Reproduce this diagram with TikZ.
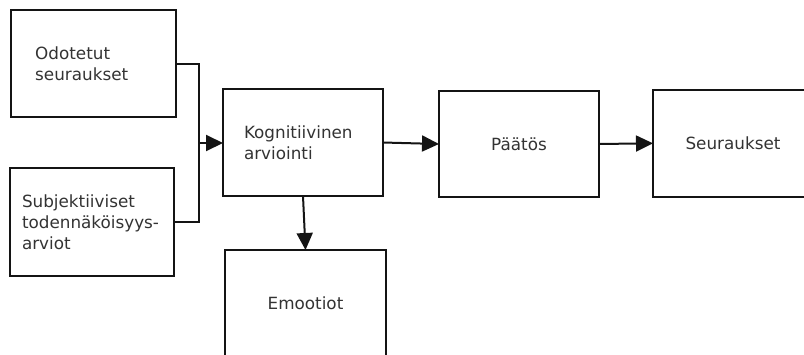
\documentclass[tikz,border=0pt]{standalone}
\usepackage{fontspec}
\setmainfont{DejaVu Sans}
\usetikzlibrary{arrows.meta}
\begin{document}
\begin{tikzpicture}[x=1pt,y=-1pt,
  box/.style={draw=black!92, line width=2pt, rectangle, inner sep=0pt, outer sep=0pt,
    font=\fontsize{16.8}{21}\selectfont, text=black!80},
  conn/.style={draw=black!92, line width=2pt},
  arr/.style={conn, -{Triangle[length=17pt,width=16pt]}}]
\useasboundingbox (0,0) rectangle (804,354);
\clip (0,0) rectangle (804,354);
\node[box, minimum width=165pt, minimum height=107pt, text width=116pt, align=left] (A) at (93.2,63.5)
  {\mbox{Odotetut}\\\mbox{seuraukset}};
\node[box, minimum width=164pt, minimum height=108pt, text width=140pt, align=left] (B) at (92,222)
  {\mbox{Subjektiiviset}\\\mbox{todennäköisyys-}\\\mbox{arviot}};
\node[box, minimum width=160pt, minimum height=107pt, text width=118pt, align=left] (K) at (303,142.5)
  {\mbox{Kognitiivinen}\\\mbox{arviointi}};
\node[box, minimum width=161pt, minimum height=107pt, align=center] (E) at (305.5,303.5) {Emootiot};
\node[box, minimum width=160pt, minimum height=106pt, align=center] (P) at (519,144) {Päätös};
\node[box, minimum width=160pt, minimum height=107pt, align=center] (S) at (733,143.3) {Seuraukset};
\coordinate (j) at (199,143);
\draw[conn] (A.east) -| (j);
\draw[conn] (B.east) -| (j);
\draw[arr] (j) -- (j -| K.west);
\draw[arr] (K.east) -- (P.west);
\draw[arr] (P.east) -- (S.west);
\draw[arr] (K.south) -- (E.north);
\end{tikzpicture}
\end{document}
